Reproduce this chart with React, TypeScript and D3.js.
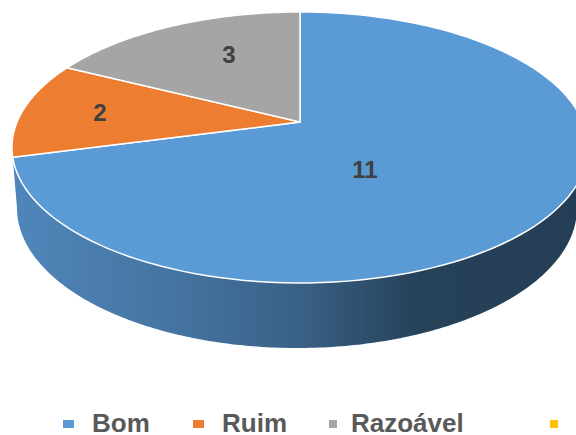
import React from "react";
import * as d3 from "d3";

const categories = ["Bom", "Ruim", "Razoável", ""];
const values = [11, 2, 3, 0];
const colors = ["#5b9bd5", "#ed7d31", "#a5a5a5", "#ffc000"];
const labelSpots: [number, number][] = [[365, 169], [100, 112], [229, 54]];
const legendMarkerX = [63, 193, 329, 550];
const legendMarkerW = [11, 11, 8, 8];
const legendTextX = [92, 222, 351, 580];

const W = 576, H = 435;
const apex = { x: 300, y: 122 };
const bend = 0.188, spanX = 282.9, spanY = 130.7;
const lower = { cx: 297, cy: 208, rx: 280, ry: 140 };
const widestY = 147.5;

const pieGen = d3.pie<number>().sort(null).value((d) => d);
const arcs = pieGen(values);
// the reference's perspective shifts the slice edges a little
const warp = d3.scaleLinear()
  .domain([0, arcs[0].endAngle, arcs[1].endAngle, 2 * Math.PI])
  .range([0, (255.1 * Math.PI) / 180, (296.7 * Math.PI) / 180, 2 * Math.PI]);

function project(angle: number): [number, number] {
  const a = warp(angle);
  const x = Math.sin(a), y = -Math.cos(a);
  const w = 1 - bend * y;
  return [apex.x + (spanX * x) / w, apex.y + (spanY * y) / w];
}
const line = d3.line();

function slicePath(a0: number, a1: number) {
  const steps = d3.range(0, 121).map((i) => a0 + ((a1 - a0) * i) / 120);
  return line([[apex.x, apex.y], ...steps.map(project)]) + "Z";
}

function sidePath() {
  const frontEnd = arcs[0].endAngle;
  const top = d3.range(0, 201)
    .map((i) => project((frontEnd * i) / 200))
    .filter((p) => p[1] >= widestY);
  const bottom = d3.range(0, 201).map((i): [number, number] => {
    const t = (i / 200) * Math.PI;
    return [lower.cx - lower.rx * Math.cos(t), lower.cy + lower.ry * Math.sin(t)];
  });
  return line([...top, ...bottom]) + "Z";
}

export default function App() {
  return (
    <svg width={W} height={H} viewBox={`0 0 ${W} ${H}`} style={{ position: "absolute", left: 0, top: 0, background: "#fff" }}>
      <defs>
        <linearGradient id="side" gradientUnits="userSpaceOnUse" x1="15" x2="576" y1="0" y2="0">
          <stop offset="0" stopColor="#4f86bb" />
          <stop offset="0.3" stopColor="#44739f" />
          <stop offset="0.5" stopColor="#3a6187" />
          <stop offset="0.72" stopColor="#264259" />
          <stop offset="1" stopColor="#243e55" />
        </linearGradient>
      </defs>
      <path d={sidePath()} fill="url(#side)" />
      {arcs.slice(0, 3).map((a, i) => (
        <path key={i} d={slicePath(a.startAngle, a.endAngle)} fill={colors[i]} stroke="#fff" strokeWidth={1.5} strokeLinejoin="round" />
      ))}
      {arcs.slice(0, 3).map((a, i) => (
        <text key={i} x={labelSpots[i][0]} y={labelSpots[i][1]} dy="0.36em" textAnchor="middle"
          fontFamily="'Liberation Sans', Arial, sans-serif" fontWeight="bold" fontSize={24} fill="#404040">
          {values[i]}
        </text>
      ))}
      {categories.map((c, i) => (
        <g key={i}>
          <rect x={legendMarkerX[i]} y={420} width={legendMarkerW[i]} height={8} fill={colors[i]} />
          {c && (
            <text x={legendTextX[i]} y={432} fontFamily="'Liberation Sans', Arial, sans-serif" fontWeight="bold" fontSize={26} fill="#595959">
              {c}
            </text>
          )}
        </g>
      ))}
    </svg>
  );
}
